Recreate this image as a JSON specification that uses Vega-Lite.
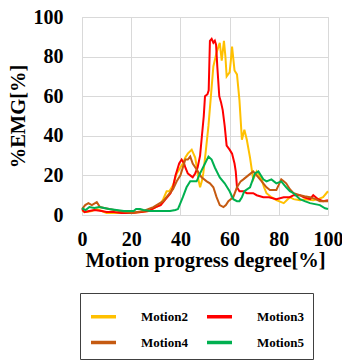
{
  "$schema": "https://vega.github.io/schema/vega-lite/v6.json",
  "autosize": "none",
  "width": 246,
  "height": 198,
  "padding": {"left": 82, "top": 17, "right": 14, "bottom": 146},
  "background": "white",
  "config": {
    "view": {"stroke": "#d9d9d9", "strokeWidth": 1},
    "font": "Liberation Serif"
  },
  "data": {"values": [
    {"m":"Motion2","x":0,"y":2},{"m":"Motion2","x":2,"y":1.5},{"m":"Motion2","x":4,"y":2},{"m":"Motion2","x":6,"y":3},{"m":"Motion2","x":8,"y":2},{"m":"Motion2","x":10,"y":1},{"m":"Motion2","x":13,"y":1},{"m":"Motion2","x":16,"y":1},{"m":"Motion2","x":20,"y":1},{"m":"Motion2","x":24,"y":1.5},{"m":"Motion2","x":27,"y":2},{"m":"Motion2","x":30,"y":4},{"m":"Motion2","x":31.7,"y":5},{"m":"Motion2","x":33,"y":8},{"m":"Motion2","x":34.4,"y":12},{"m":"Motion2","x":35.5,"y":12},{"m":"Motion2","x":37,"y":15},{"m":"Motion2","x":38.5,"y":21},{"m":"Motion2","x":40,"y":24},{"m":"Motion2","x":41,"y":26},{"m":"Motion2","x":42,"y":29},{"m":"Motion2","x":43,"y":31},{"m":"Motion2","x":44.6,"y":33},{"m":"Motion2","x":45.3,"y":31},{"m":"Motion2","x":46,"y":29},{"m":"Motion2","x":46.7,"y":24},{"m":"Motion2","x":47.3,"y":18},{"m":"Motion2","x":48,"y":14},{"m":"Motion2","x":48.7,"y":17},{"m":"Motion2","x":49.3,"y":21},{"m":"Motion2","x":50.3,"y":32},{"m":"Motion2","x":51.4,"y":45},{"m":"Motion2","x":52.4,"y":60},{"m":"Motion2","x":53.4,"y":75},{"m":"Motion2","x":54.7,"y":82},{"m":"Motion2","x":56,"y":87},{"m":"Motion2","x":56.8,"y":78},{"m":"Motion2","x":57.7,"y":88},{"m":"Motion2","x":58.3,"y":80},{"m":"Motion2","x":58.8,"y":70},{"m":"Motion2","x":60,"y":72},{"m":"Motion2","x":60.5,"y":78},{"m":"Motion2","x":61,"y":85},{"m":"Motion2","x":62,"y":73},{"m":"Motion2","x":63,"y":71},{"m":"Motion2","x":64,"y":58},{"m":"Motion2","x":64.5,"y":48},{"m":"Motion2","x":65,"y":38},{"m":"Motion2","x":66,"y":43},{"m":"Motion2","x":67,"y":38},{"m":"Motion2","x":68.3,"y":29},{"m":"Motion2","x":69.6,"y":18},{"m":"Motion2","x":71,"y":22},{"m":"Motion2","x":73,"y":18},{"m":"Motion2","x":74,"y":14},{"m":"Motion2","x":75,"y":11},{"m":"Motion2","x":77,"y":9},{"m":"Motion2","x":79,"y":7.5},{"m":"Motion2","x":82,"y":6},{"m":"Motion2","x":84.5,"y":9},{"m":"Motion2","x":86,"y":8},{"m":"Motion2","x":88.6,"y":7.5},{"m":"Motion2","x":91,"y":8},{"m":"Motion2","x":94,"y":7.5},{"m":"Motion2","x":96,"y":8},{"m":"Motion2","x":98,"y":9},{"m":"Motion2","x":100,"y":12},
    {"m":"Motion3","x":0,"y":3},{"m":"Motion3","x":1,"y":1.5},{"m":"Motion3","x":3,"y":2},{"m":"Motion3","x":5,"y":2.5},{"m":"Motion3","x":8,"y":2},{"m":"Motion3","x":10,"y":1.5},{"m":"Motion3","x":13,"y":1.5},{"m":"Motion3","x":16,"y":1},{"m":"Motion3","x":20,"y":1},{"m":"Motion3","x":24,"y":1.5},{"m":"Motion3","x":27,"y":2},{"m":"Motion3","x":30,"y":4},{"m":"Motion3","x":32,"y":5},{"m":"Motion3","x":34,"y":8},{"m":"Motion3","x":36,"y":11},{"m":"Motion3","x":37,"y":14},{"m":"Motion3","x":38,"y":20},{"m":"Motion3","x":38.5,"y":22},{"m":"Motion3","x":39.5,"y":26},{"m":"Motion3","x":40.5,"y":28},{"m":"Motion3","x":41.5,"y":26},{"m":"Motion3","x":42,"y":24},{"m":"Motion3","x":43,"y":21},{"m":"Motion3","x":44,"y":20},{"m":"Motion3","x":45,"y":19},{"m":"Motion3","x":46,"y":21},{"m":"Motion3","x":47,"y":24},{"m":"Motion3","x":48,"y":30},{"m":"Motion3","x":48.6,"y":38},{"m":"Motion3","x":49.5,"y":50},{"m":"Motion3","x":50,"y":60},{"m":"Motion3","x":51,"y":61},{"m":"Motion3","x":51.5,"y":63},{"m":"Motion3","x":52,"y":88},{"m":"Motion3","x":52.7,"y":89},{"m":"Motion3","x":53.4,"y":87},{"m":"Motion3","x":54,"y":88},{"m":"Motion3","x":54.5,"y":86},{"m":"Motion3","x":55,"y":75},{"m":"Motion3","x":55.8,"y":60},{"m":"Motion3","x":56.5,"y":57},{"m":"Motion3","x":57.2,"y":53},{"m":"Motion3","x":58,"y":45},{"m":"Motion3","x":58.8,"y":35},{"m":"Motion3","x":60,"y":33},{"m":"Motion3","x":61,"y":31},{"m":"Motion3","x":62,"y":26},{"m":"Motion3","x":62.5,"y":22},{"m":"Motion3","x":63,"y":14},{"m":"Motion3","x":64,"y":12},{"m":"Motion3","x":65.6,"y":12},{"m":"Motion3","x":67,"y":11},{"m":"Motion3","x":69.6,"y":11},{"m":"Motion3","x":71,"y":10},{"m":"Motion3","x":73.7,"y":9},{"m":"Motion3","x":76,"y":9},{"m":"Motion3","x":79,"y":8},{"m":"Motion3","x":82,"y":9},{"m":"Motion3","x":84.5,"y":9},{"m":"Motion3","x":86,"y":10},{"m":"Motion3","x":88.6,"y":10},{"m":"Motion3","x":90,"y":9},{"m":"Motion3","x":92.7,"y":8},{"m":"Motion3","x":94,"y":10},{"m":"Motion3","x":96,"y":8},{"m":"Motion3","x":98,"y":7},{"m":"Motion3","x":100,"y":7.5},
    {"m":"Motion4","x":0,"y":3},{"m":"Motion4","x":1.3,"y":5},{"m":"Motion4","x":2.6,"y":6},{"m":"Motion4","x":4,"y":5},{"m":"Motion4","x":6,"y":6.5},{"m":"Motion4","x":7.3,"y":4},{"m":"Motion4","x":9,"y":3.5},{"m":"Motion4","x":11,"y":3},{"m":"Motion4","x":15,"y":2},{"m":"Motion4","x":20,"y":1},{"m":"Motion4","x":25,"y":2},{"m":"Motion4","x":29,"y":4},{"m":"Motion4","x":33,"y":7},{"m":"Motion4","x":35,"y":10},{"m":"Motion4","x":37,"y":13},{"m":"Motion4","x":38.5,"y":17},{"m":"Motion4","x":40,"y":20},{"m":"Motion4","x":41,"y":24},{"m":"Motion4","x":42,"y":28},{"m":"Motion4","x":43,"y":28},{"m":"Motion4","x":44,"y":29.5},{"m":"Motion4","x":45,"y":26},{"m":"Motion4","x":46.6,"y":23},{"m":"Motion4","x":48.6,"y":19},{"m":"Motion4","x":50.7,"y":17},{"m":"Motion4","x":52,"y":16},{"m":"Motion4","x":53.4,"y":14},{"m":"Motion4","x":54.7,"y":9},{"m":"Motion4","x":56,"y":5},{"m":"Motion4","x":57.5,"y":4},{"m":"Motion4","x":58.5,"y":5},{"m":"Motion4","x":59.5,"y":7},{"m":"Motion4","x":61.5,"y":9},{"m":"Motion4","x":63,"y":14},{"m":"Motion4","x":64.5,"y":17},{"m":"Motion4","x":65.6,"y":18},{"m":"Motion4","x":67.6,"y":20},{"m":"Motion4","x":69.6,"y":22},{"m":"Motion4","x":71.7,"y":19},{"m":"Motion4","x":73.7,"y":16},{"m":"Motion4","x":75,"y":14},{"m":"Motion4","x":76.4,"y":12.6},{"m":"Motion4","x":79,"y":12.6},{"m":"Motion4","x":81,"y":18},{"m":"Motion4","x":82,"y":17},{"m":"Motion4","x":83,"y":16},{"m":"Motion4","x":84.5,"y":13},{"m":"Motion4","x":86,"y":11},{"m":"Motion4","x":88.6,"y":10},{"m":"Motion4","x":90.5,"y":9.5},{"m":"Motion4","x":92.7,"y":9},{"m":"Motion4","x":95,"y":8},{"m":"Motion4","x":96.7,"y":7},{"m":"Motion4","x":100,"y":7},
    {"m":"Motion5","x":0,"y":3.4},{"m":"Motion5","x":1.5,"y":2.5},{"m":"Motion5","x":3,"y":4},{"m":"Motion5","x":5,"y":3.5},{"m":"Motion5","x":7,"y":4},{"m":"Motion5","x":9,"y":3.5},{"m":"Motion5","x":11,"y":3},{"m":"Motion5","x":14,"y":2.5},{"m":"Motion5","x":17,"y":2},{"m":"Motion5","x":21,"y":2},{"m":"Motion5","x":22,"y":3},{"m":"Motion5","x":23.6,"y":3},{"m":"Motion5","x":25,"y":2.5},{"m":"Motion5","x":27.6,"y":2},{"m":"Motion5","x":31.7,"y":2},{"m":"Motion5","x":35.8,"y":2},{"m":"Motion5","x":38,"y":2.5},{"m":"Motion5","x":39,"y":3},{"m":"Motion5","x":40,"y":6},{"m":"Motion5","x":41,"y":9},{"m":"Motion5","x":42.5,"y":14},{"m":"Motion5","x":44,"y":17},{"m":"Motion5","x":46.6,"y":17},{"m":"Motion5","x":48,"y":21},{"m":"Motion5","x":50,"y":26},{"m":"Motion5","x":51.4,"y":29.5},{"m":"Motion5","x":52.7,"y":28},{"m":"Motion5","x":54,"y":24},{"m":"Motion5","x":56,"y":19},{"m":"Motion5","x":58,"y":16},{"m":"Motion5","x":60,"y":12},{"m":"Motion5","x":61.5,"y":8},{"m":"Motion5","x":63,"y":7},{"m":"Motion5","x":64,"y":7},{"m":"Motion5","x":65,"y":9},{"m":"Motion5","x":66,"y":12},{"m":"Motion5","x":68.3,"y":14},{"m":"Motion5","x":70.3,"y":21},{"m":"Motion5","x":71.7,"y":22},{"m":"Motion5","x":73.7,"y":18},{"m":"Motion5","x":75,"y":17},{"m":"Motion5","x":77,"y":18},{"m":"Motion5","x":79,"y":16},{"m":"Motion5","x":81,"y":17},{"m":"Motion5","x":83,"y":14},{"m":"Motion5","x":84.5,"y":12},{"m":"Motion5","x":86,"y":11},{"m":"Motion5","x":88.6,"y":8},{"m":"Motion5","x":90.5,"y":7},{"m":"Motion5","x":92.7,"y":6},{"m":"Motion5","x":96.7,"y":5},{"m":"Motion5","x":98.8,"y":3.4},{"m":"Motion5","x":100,"y":3}
  ]},
  "mark": {"type": "line", "strokeWidth": 2},
  "encoding": {
    "x": {
      "field": "x", "type": "quantitative",
      "scale": {"domain": [0, 100], "nice": false, "zero": false},
      "axis": {
        "values": [0, 20, 40, 60, 80, 100],
        "title": "Motion progress degree[%]",
        "domain": false, "ticks": false,
        "grid": true, "gridColor": "#d9d9d9", "gridWidth": 1,
        "labelFont": "Liberation Serif", "labelFontWeight": "bold", "labelFontSize": 20, "labelColor": "#000",
        "labelPadding": 14, "labelFlush": false,
        "titleFont": "Liberation Serif", "titleFontWeight": "bold", "titleFontSize": 20.5, "titleColor": "#000",
        "titlePadding": 1
      }
    },
    "y": {
      "field": "y", "type": "quantitative",
      "scale": {"domain": [0, 100], "nice": false},
      "axis": {
        "values": [0, 20, 40, 60, 80, 100],
        "title": "%EMG[%]",
        "domain": false, "ticks": false,
        "grid": true, "gridColor": "#d9d9d9", "gridWidth": 1,
        "labelFont": "Liberation Serif", "labelFontWeight": "bold", "labelFontSize": 20, "labelColor": "#000",
        "labelPadding": 19, "labelFlush": false,
        "titleFont": "Liberation Serif", "titleFontWeight": "bold", "titleFontSize": 20.5, "titleColor": "#000",
        "titleX": -54, "titleY": 99, "titleAngle": -90
      }
    },
    "color": {
      "field": "m", "type": "nominal",
      "scale": {"domain": ["Motion2", "Motion3", "Motion4", "Motion5"], "range": ["#FFC000", "#FF0000", "#C55A11", "#00B050"]},
      "legend": {
        "title": null,
        "values": ["Motion2", "Motion4", "Motion3", "Motion5"],
        "orient": "none", "legendX": -2, "legendY": 276,
        "columns": 2, "columnPadding": 12, "rowPadding": 4,
        "symbolType": "stroke", "symbolSize": 625, "symbolStrokeWidth": 3.5,
        "labelOffset": 23, "labelFont": "Liberation Serif", "labelFontWeight": "bold", "labelFontSize": 13, "labelColor": "#000",
        "padding": 9, "strokeColor": "#404040", "fillColor": "white",
        "labelExpr": "datum.label + '\u00a0\u00a0\u00a0\u00a0\u00a0\u00a0'"
      }
    }
  }
}
